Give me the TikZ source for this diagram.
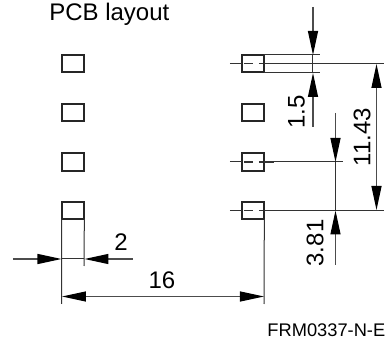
\documentclass[tikz,border=0pt]{standalone}
\usepackage{fontspec}
\setmainfont{Liberation Sans}
\usetikzlibrary{arrows.meta,calc}
\tikzset{
	pad/.style={
			draw=black!85, line width=1.3pt, inner sep=0pt, outer sep=0pt,
			minimum width=17pt, minimum height=13pt
		},
	dimline/.style={
			draw=black!70, line width=0.9pt,
			-{Triangle[length=18pt,width=7.5pt,sep=0pt,color=black,fill=black]}
		},
	dimboth/.style={
			draw=black!70, line width=0.9pt,
			{Triangle[length=18pt,width=7.5pt,sep=0pt,color=black,fill=black]}-{Triangle[length=18pt,width=7.5pt,sep=0pt,color=black,fill=black]}
		},
	helpline/.style={draw=black!80, line width=0.75pt},
	dimtext/.style={font=\fontsize{18}{18}\selectfont, inner sep=0pt}
}

\begin{document}
\begin{tikzpicture}[x=0.75pt,y=-0.75pt]
	\useasboundingbox (0,0) rectangle (387,339);
	% Pads zeichnen
	\foreach \row/\ypos in {1/63.5,2/112.5,3/162,4/210.5} {
		\node[pad] (padL\row) at (73,\ypos) {};
		\node[pad] (padR\row) at (253,\ypos) {};
	}
	% Mittellinien zeichnen
	\foreach \row/\xend in {1/384,3/343,4/384} {
		\coordinate (cleft\row) at ($(padR\row.center)+(-23,0)$);
		\coordinate (cright\row) at (\xend,0 |- padR\row.center);
		\draw[helpline] (cleft\row) -- (padR\row.west);
		\draw[helpline] (padR\row.east) -- (cright\row);
		\draw[helpline,line width=0.9pt] ($(padR\row.center)+(-9,0)$) -- ($(padR\row.center)+(0,0)$);
		\draw[helpline,line width=0.9pt] ($(padR\row.center)+(6,0)$) -- ($(padR\row.center)+(10,0)$);
		\draw[helpline,line width=1pt] (padR\row.east) -- ($(padR\row.east)+(10,0)$);
	}
	% Hilfslinien zeichnen
	\coordinate (hup) at (320,0 |- padR1.north);
	\coordinate (hdown) at (320,0 |- padR1.south);
	\draw[helpline] (padR1.north east) -- (hup);
	\draw[helpline] (padR1.south east) -- (hdown);
	\coordinate (leftend) at (61.5,304);
	\coordinate (midend) at (84,266);
	\coordinate (rightend) at (264,304);
	\draw[helpline] (padL4.south west) -- (leftend);
	\draw[helpline] (padL4.south east) -- (midend);
	\draw[helpline] (padR4.south east) -- (rightend);
	% Masse rechts
	\coordinate (a) at (313,7);
	\coordinate (b) at (313,55);
	\coordinate (c) at (313,127);
	\coordinate (d) at (313,73);
	\draw[dimline] (a) -- (b);
	\draw[dimline] (c) -- (d);
	\draw[helpline] (b) -- (d);
	\coordinate (e) at (376.5,64);
	\coordinate (f) at (376.5,210);
	\draw[dimboth] (e) -- (f);
	\coordinate (g) at (335.5,113);
	\coordinate (h) at (335.5,162);
	\coordinate (i) at (335.5,265);
	\coordinate (j) at (335.5,210.5);
	\draw[dimline] (g) -- (h);
	\draw[dimline] (i) -- (j);
	\draw[helpline] (h) -- (j);
	% Masse unten
	\coordinate (k) at (13,259);
	\coordinate (l) at (61.5,259);
	\coordinate (m) at (133,259);
	\coordinate (n) at (84.5,259);
	\draw[dimline] (k) -- (l);
	\draw[dimline] (m) -- (n);
	\draw[helpline] (l) -- (n);
	\coordinate (o) at (62,296.5);
	\coordinate (p) at (264,296.5);
	\draw[dimboth] (o) -- (p);
	% Beschriftung
	\node[dimtext,rotate=90] (dimA) at (296.5,112) {1.5};
	\node[dimtext,rotate=90] (dimB) at (362,137) {11.43};
	\node[dimtext,rotate=90] (dimC) at (315,243) {3.81};
	\node[dimtext] (dimD) at (121,242) {2};
	\node[dimtext] (dimE) at (162,280) {16};
	\node[font=\fontsize{18}{18}\selectfont, inner sep=0pt, anchor=base west] (title) at (49,20.5) {PCB layout};
	\node[font=\fontsize{13.7}{13.7}\selectfont, inner sep=0pt, anchor=base east] (code) at (385.5,337) {FRM0337-N-E};
\end{tikzpicture}
\end{document}
